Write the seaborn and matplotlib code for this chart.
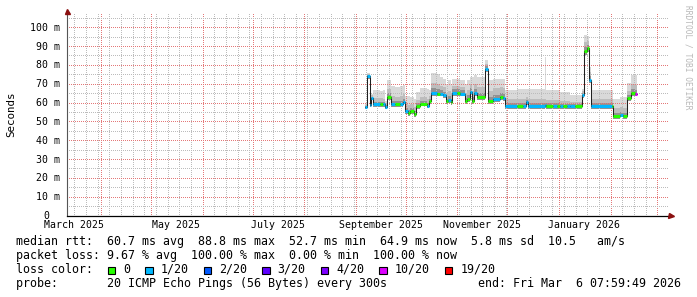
import numpy as np
import pandas as pd
import matplotlib
matplotlib.use("Agg")
import matplotlib.pyplot as plt
import matplotlib.dates as mdates
import matplotlib.transforms as mtransforms
from matplotlib.patches import Rectangle
from matplotlib.ticker import FixedLocator
import seaborn as sns

# ---------------- data ----------------
seg_start = [
    "2025-09-06 17:00", "2025-09-07 22:00", "2025-09-09 10:00", "2025-09-10 05:00",
    "2025-09-11 05:00", "2025-09-15 14:00", "2025-09-17 14:00", "2025-09-18 14:00",
    "2025-09-19 14:00", "2025-09-22 00:00", "2025-09-24 14:00", "2025-09-27 14:00",
    "2025-09-29 14:00", "2025-09-30 14:00", "2025-10-02 14:00", "2025-10-03 14:00",
    "2025-10-06 05:00", "2025-10-07 05:00", "2025-10-09 14:00", "2025-10-13 14:00",
    "2025-10-15 00:00", "2025-10-16 00:00", "2025-10-19 14:00", "2025-10-21 14:00",
    "2025-10-23 14:00", "2025-10-25 05:00", "2025-10-26 14:00", "2025-10-28 00:00",
    "2025-10-29 00:00", "2025-10-31 14:00", "2025-11-02 14:00", "2025-11-05 14:00",
    "2025-11-07 00:00", "2025-11-08 14:00", "2025-11-09 19:00", "2025-11-11 05:00",
    "2025-11-12 14:00", "2025-11-17 19:00", "2025-11-19 05:00", "2025-11-22 14:00",
    "2025-11-26 14:00", "2025-11-28 07:00", "2025-11-29 12:00", "2025-12-06 17:00",
    "2025-12-10 14:00", "2025-12-12 07:00", "2025-12-13 14:00", "2025-12-23 17:00",
    "2025-12-24 07:00", "2025-12-28 14:00", "2025-12-30 17:00", "2026-01-01 17:00",
    "2026-01-03 17:00", "2026-01-05 17:00", "2026-01-07 17:00", "2026-01-10 17:00",
    "2026-01-15 02:00", "2026-01-16 02:00", "2026-01-18 02:00", "2026-01-19 07:00",
    "2026-01-20 02:00", "2026-02-01 17:00", "2026-02-02 17:00", "2026-02-06 17:00",
    "2026-02-08 17:00", "2026-02-10 17:00", "2026-02-13 02:00", "2026-02-15 17:00",
]
seg_end = "2026-02-17 02:00"

median_ms = [
    57.6, 74.0, 58.5, 62.4, 59.0, 59.0, 59.0, 57.6,
    63.0, 59.0, 59.0, 59.0, 60.3, 55.3, 54.4, 55.5,
    54.0, 58.0, 59.4, 58.4, 60.6, 65.1, 64.7, 64.7,
    63.8, 60.8, 61.5, 60.3, 65.1, 65.1, 64.7, 60.8,
    62.1, 65.6, 60.8, 65.1, 63.0, 78.0, 60.8, 62.1,
    63.0, 62.4, 58.0, 58.0, 58.0, 60.3, 58.0, 58.5,
    58.0, 58.0, 58.0, 58.0, 58.0, 58.0, 58.0, 58.0,
    63.8, 87.3, 88.8, 71.9, 58.0, 58.0, 52.6, 53.5,
    52.6, 62.5, 65.1, 64.7,
]
loss_pings = [
    1, 1, 1, 1, 1, 0, 1, 1,
    0, 1, 0, 1, 1, 1, 0, 0,
    0, 0, 0, 1, 0, 1, 0, 1,
    1, 0, 1, 0, 1, 0, 1, 0,
    0, 1, 0, 1, 0, 1, 0, 1,
    0, 1, 1, 0, 1, 1, 1, 1,
    0, 1, 0, 1, 0, 1, 1, 0,
    1, 0, 0, 1, 1, 0, 0, 1,
    0, 0, 0, 10,
]
smoke_top = [
    59.5, 75.5, 60.5, 64.7, 66.5, 66.0, 66.5, 61.0,
    72.2, 68.6, 68.0, 68.6, 69.2, 63.3, 63.3, 63.0,
    62.0, 65.6, 67.9, 67.0, 66.5, 75.8, 75.0, 73.6,
    72.7, 70.0, 72.0, 70.0, 72.7, 72.7, 72.2, 70.0,
    72.0, 73.6, 73.6, 74.5, 73.6, 82.5, 71.9, 72.7,
    72.7, 72.7, 66.9, 67.4, 67.4, 67.4, 67.4, 84.0,
    66.5, 66.5, 66.5, 65.6, 65.6, 65.6, 63.8, 63.8,
    67.4, 95.9, 95.5, 79.0, 66.9, 66.9, 62.1, 63.0,
    63.0, 70.4, 74.5, 74.5,
]
smoke_mid = [
    58.8, 75.0, 59.8, 63.8, 62.5, 62.5, 62.0, 59.5,
    67.0, 63.5, 63.0, 63.5, 64.5, 59.5, 58.5, 59.0,
    57.5, 61.5, 63.0, 62.0, 63.5, 70.5, 70.0, 69.0,
    68.0, 65.0, 66.0, 64.5, 69.0, 69.0, 68.5, 65.0,
    66.5, 70.0, 66.0, 70.0, 68.0, 80.5, 66.0, 67.5,
    68.0, 67.5, 62.0, 62.0, 62.0, 63.0, 62.0, 62.0,
    61.5, 61.5, 61.5, 61.0, 61.0, 61.0, 60.5, 60.5,
    66.0, 92.0, 92.5, 76.0, 62.0, 62.0, 57.0, 57.5,
    57.0, 66.0, 70.0, 69.5,
]
smoke_dark = [
    58.2, 74.5, 59.2, 63.0, 60.5, 60.5, 60.3, 58.5,
    64.8, 61.0, 60.8, 61.0, 62.0, 57.0, 56.2, 57.0,
    55.5, 59.5, 61.0, 60.0, 62.0, 67.5, 67.0, 66.8,
    65.5, 62.5, 63.2, 62.0, 67.0, 67.0, 66.5, 62.5,
    64.0, 67.5, 62.8, 67.2, 65.0, 79.2, 63.0, 64.2,
    65.0, 64.5, 59.8, 59.8, 59.8, 61.5, 59.8, 60.0,
    59.5, 59.5, 59.5, 59.3, 59.3, 59.3, 59.2, 59.2,
    65.0, 89.5, 90.5, 74.0, 59.8, 59.8, 54.5, 55.2,
    54.5, 64.0, 67.2, 66.8,
]
smoke_low = [
    56.5, 72.5, 57.5, 61.2, 57.8, 57.8, 57.8, 56.5,
    61.5, 57.8, 57.8, 57.8, 59.0, 53.8, 53.0, 54.0,
    52.5, 56.5, 58.0, 57.0, 59.2, 63.5, 63.2, 63.2,
    62.2, 59.2, 60.0, 58.8, 63.5, 63.5, 63.2, 59.2,
    60.5, 64.0, 59.2, 63.5, 61.5, 76.2, 59.2, 60.5,
    61.5, 61.0, 56.5, 56.5, 56.5, 58.8, 56.5, 57.0,
    56.5, 56.5, 56.5, 56.5, 56.5, 56.5, 56.5, 56.5,
    62.5, 85.5, 87.0, 70.5, 56.5, 56.5, 51.5, 52.2,
    51.5, 61.0, 63.5, 63.2,
]

x_start = "2025-03-11 14:00"
x_end = "2026-03-07 12:00"
y_max = 107.7
y_ticks = [0, 10, 20, 30, 40, 50, 60, 70, 80, 90, 100]
y_minor = [5, 15, 25, 35, 45, 55, 65, 75, 85, 95, 105]
y_tick_labels = ["0", "10 m", "20 m", "30 m", "40 m", "50 m", "60 m", "70 m",
                 "80 m", "90 m", "100 m"]
month_label_dates = ["2025-03-16", "2025-05-16", "2025-07-16", "2025-09-16",
                     "2025-11-16", "2026-01-16"]
month_labels = ["March 2025", "May 2025", "July 2025", "September 2025",
                "November 2025", "January 2026"]

loss_levels = [0, 1, 2, 3, 4, 10, 19]
loss_labels = ["0", "1/20", "2/20", "3/20", "4/20", "10/20", "19/20"]
loss_colors = ["#26ff00", "#00b8ff", "#0059ff", "#5e00ff", "#7e00ff", "#dd00ff", "#ff0000"]

legend_rtt = "median rtt:  60.7 ms avg  88.8 ms max  52.7 ms min  64.9 ms now  5.8 ms sd  10.5   am/s"
legend_loss = "packet loss: 9.67 % avg  100.00 % max  0.00 % min  100.00 % now"
legend_color_title = "loss color:"
legend_probe = "probe:       20 ICMP Echo Pings (56 Bytes) every 300s"
legend_end = "end: Fri Mar  6 07:59:49 2026"
watermark = "RRDTOOL / TOBI OETIKER"

# ---------------- plotting ----------------
sns.set_style("white")
plt.rcParams['font.family'] = ['DejaVu Sans Mono', 'DejaVu Sans']

W, H = 697, 297
fig = plt.figure(figsize=(W / 100, H / 100), dpi=100)
fig.patch.set_facecolor("white")

ax_left, ax_right, ax_top, ax_bot = 67, 668, 12.7, 215.5
ax = fig.add_axes([ax_left / W, 1 - ax_bot / H, (ax_right - ax_left) / W, (ax_bot - ax_top) / H])
ax.set_facecolor("white")

xs = pd.to_datetime(seg_start + [seg_end])

def ext(a):
    return np.array(list(a) + [a[-1]], dtype=float)

top_e, mid_e, dark_e, low_e, med_e = map(ext, (smoke_top, smoke_mid, smoke_dark, smoke_low, median_ms))

# smoke
ax.fill_between(xs, low_e, top_e, step="post", color="#d9d9d9", lw=0, zorder=1)
ax.fill_between(xs, low_e, mid_e, step="post", color="#bdbdbd", lw=0, zorder=1.1)
ax.fill_between(xs, low_e, dark_e, step="post", color="#929292", lw=0, zorder=1.2)

# median: thin black line
df = pd.DataFrame({"t": xs, "median": med_e})
sns.lineplot(data=df, x="t", y="median", ax=ax, estimator=None, sort=False,
             drawstyle="steps-post", color="#202020", linewidth=0.75, zorder=3)

# median coloured by loss (horizontal parts only)
t0 = pd.to_datetime(seg_start)
t1 = pd.to_datetime(seg_start[1:] + [seg_end])
seg_colors = [loss_colors[loss_levels.index(l)] for l in loss_pings]
ax.hlines(median_ms, t0, t1, colors=seg_colors, linewidth=2.2, zorder=4)

ax.set_xlim(pd.Timestamp(x_start), pd.Timestamp(x_end))
ax.set_ylim(0, y_max)

# grid (1px on / 1px off dots, dash start shifted to a pixel edge)
ax.xaxis.set_major_locator(mdates.MonthLocator())
ax.xaxis.set_minor_locator(mdates.WeekdayLocator(byweekday=mdates.SU))
ax.yaxis.set_major_locator(FixedLocator(y_ticks))
ax.yaxis.set_minor_locator(FixedLocator(y_minor))
ax.set_axisbelow(False)
dots = (0.5, (1, 1))
ax.grid(which="minor", color="#bcbcbc", linestyle=dots, linewidth=0.72, zorder=2.4)
ax.grid(which="major", color="#e47878", linestyle=dots, linewidth=0.72, zorder=2.6)
ax.tick_params(which="both", length=0, labelbottom=False, labelleft=False)
ax.set_xlabel("")
ax.set_ylabel("")

for s in ("top", "right"):
    ax.spines[s].set_visible(False)
ax.spines["left"].set_color("#555555")
ax.spines["left"].set_linewidth(0.8)
ax.spines["bottom"].set_color("#000000")
ax.spines["bottom"].set_linewidth(0.9)
ax.spines["left"].set_zorder(5)
ax.spines["bottom"].set_zorder(5)

# axis arrows
ah = ax_bot - ax_top
aw = ax_right - ax_left
ax.plot([0, 0], [1, 1 + 2.5 / ah], transform=ax.transAxes, color="#555555", lw=0.8, clip_on=False)
ax.plot([0], [1 + 1.8 / ah], transform=ax.transAxes, marker="^", color="#8b1010",
        markersize=3.6, clip_on=False, zorder=6)
ax.plot([1, 1 + 2.5 / aw], [0, 0], transform=ax.transAxes, color="#000000", lw=0.9, clip_on=False)
ax.plot([1 + 3.0 / aw], [0], transform=ax.transAxes, marker=">", color="#8b1010",
        markersize=3.6, clip_on=False, zorder=6)

# y tick labels
for v, lab in zip(y_ticks, y_tick_labels):
    dx = -17.5 if lab == "0" else -7.0
    tr = mtransforms.offset_copy(ax.get_yaxis_transform(), fig=fig, x=dx * 0.72, y=-3.6 * 0.72, units="points")
    ax.text(0, v, lab, transform=tr, ha="right", va="baseline", fontsize=7.1, color="#000000")

# x labels (centred in month)
for d, lab in zip(month_label_dates, month_labels):
    tr = mtransforms.offset_copy(ax.get_xaxis_transform(), fig=fig, y=-12.8 * 0.72, units="points")
    ax.text(pd.Timestamp(d), 0, lab, transform=tr, ha="center", va="baseline", fontsize=7.1, color="#000000")

# y-axis title
fig.text(11.2 / W, 1 - 114 / H, "Seconds", rotation=90, ha="center", va="center", fontsize=7.8, color="#000000")

# watermark
fig.text(688 / W, 1 - 57.5 / H, watermark, rotation=-90, ha="center", va="center", fontsize=5.7, color="#b8b8b8")

# legend
fs = 8.4
def px(x, y):
    return x / W, 1 - y / H

fig.text(*px(16, 244.6), legend_rtt, ha="left", va="baseline", fontsize=fs, color="#000000")
fig.text(*px(16, 258.8), legend_loss, ha="left", va="baseline", fontsize=fs, color="#000000")
fig.text(*px(16, 273.0), legend_color_title, ha="left", va="baseline", fontsize=fs, color="#000000")
fig.text(*px(16, 287.1), legend_probe, ha="left", va="baseline", fontsize=fs, color="#000000")
fig.text(*px(681, 287.1), legend_end, ha="right", va="baseline", fontsize=fs, color="#000000")

cw = 7.02
sq_x = 107.5
for lab, col in zip(loss_labels, loss_colors):
    r = Rectangle(((sq_x) / W, 1 - 274.0 / H), 7.5 / W, 7.5 / H, transform=fig.transFigure,
                  facecolor=col, edgecolor="#000000", linewidth=0.8)
    fig.patches.append(r)
    fig.text(*px(sq_x + 15.5, 273.0), lab, ha="left", va="baseline", fontsize=fs, color="#000000")
    sq_x = sq_x + 15.5 + len(lab) * cw + 15.0

fig.savefig("out.png", dpi=100, facecolor="white")
